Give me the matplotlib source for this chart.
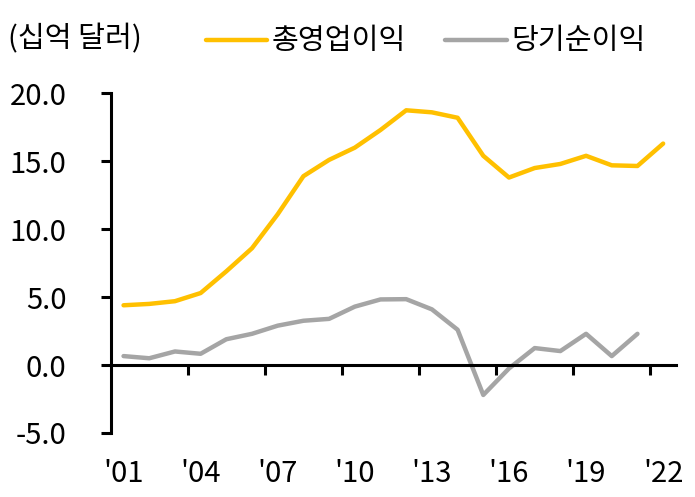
import numpy as np
import matplotlib.pyplot as plt

plt.rcParams['font.family'] = ['Noto Sans CJK KR', 'DejaVu Sans']

years = [str(y)[2:] for y in range(2001, 2023)]
total_op = [4.4, 4.5, 4.7, 5.3, 6.9, 8.6, 11.1, 13.9, 15.1, 16.0, 17.3,
            18.75, 18.6, 18.2, 15.4, 13.8, 14.5, 14.8, 15.4, 14.7, 14.65, 16.3]
net_income = [0.66, 0.5, 1.0, 0.83, 1.9, 2.3, 2.9, 3.26, 3.4, 4.3, 4.83,
              4.85, 4.1, 2.6, -2.2, -0.25, 1.25, 1.03, 2.3, 0.66, 2.3, np.nan]
label_every = 3

orange = '#FFC000'
gray = '#A5A5A5'

fig = plt.figure(figsize=(6.95, 4.97), dpi=100)
ax = fig.add_axes([110.7/695, 64/497, 565.3/695, 339.7/497])

x = np.arange(len(years))
ax.plot(x, total_op, color=orange, lw=3.2, solid_capstyle='round',
        solid_joinstyle='round', label='총영업이익')
ax.plot(x, net_income, color=gray, lw=3.2, solid_capstyle='round',
        solid_joinstyle='round', label='당기순이익')

ax.set_xlim(-0.5, len(years) - 0.5)
ax.set_ylim(-5, 20)

for s in ['top', 'right']:
    ax.spines[s].set_visible(False)
ax.spines['bottom'].set_position(('data', 0))
ax.spines['bottom'].set_linewidth(2.2)
ax.spines['left'].set_linewidth(2.2)

# boundary ticks on the zero line
ax.set_xticks(np.arange(label_every - 0.5, len(years) - 0.5, label_every))
ax.set_xticklabels([])
ax.tick_params(axis='x', direction='out', length=7, width=2.2)

ax.set_yticks([-5, 0, 5, 10, 15, 20])
ax.set_yticklabels([f'{v:.1f}' for v in [-5, 0, 5, 10, 15, 20]])
ax.tick_params(axis='y', direction='out', length=7, width=2.2, pad=25,
               labelsize=21, colors='black')

# year labels along the bottom
sec = ax.secondary_xaxis(0.0)
sec.set_xticks(x[::label_every])
sec.set_xticklabels(["'" + years[i] for i in range(0, len(years), label_every)])
sec.tick_params(length=0, pad=19, labelsize=21)
sec.spines['bottom'].set_visible(False)

fig.text(8/695, 1 - 39/497, '(십억 달러)', fontsize=21, va='center', ha='left')

fig.legend(loc='center left', bbox_to_anchor=(206/695, 1 - 41/497),
           ncol=2, frameon=False, fontsize=21, handlelength=2.1,
           handletextpad=0.15, columnspacing=1.35, borderpad=0, borderaxespad=0,
           handleheight=0.5)

fig.savefig('out.png', dpi=100)
